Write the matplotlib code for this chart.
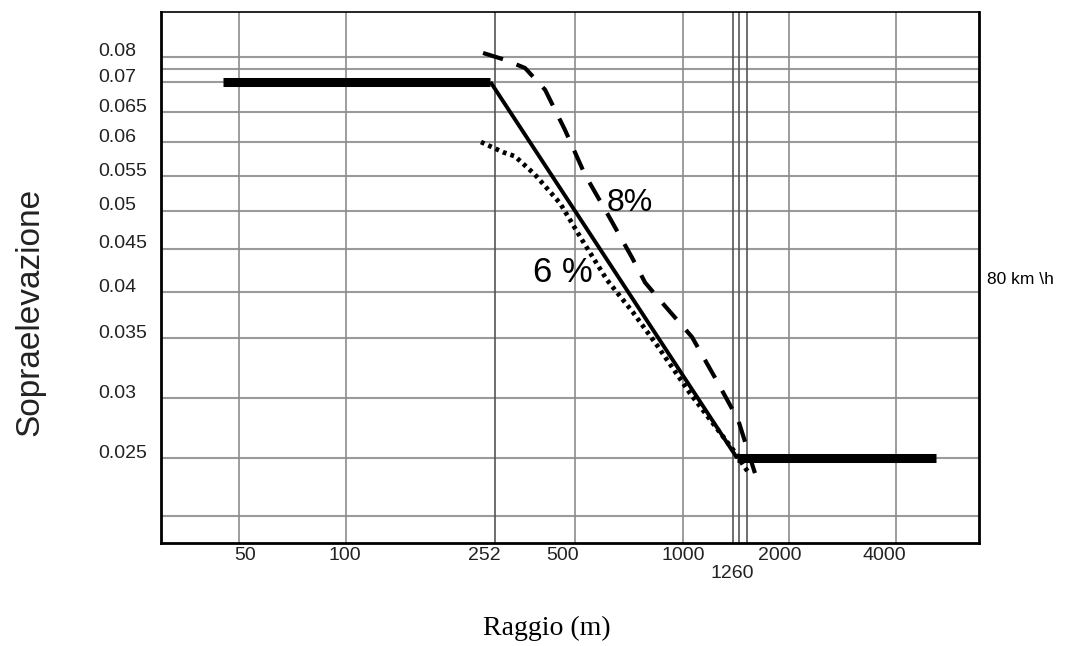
import numpy as np
import matplotlib
matplotlib.use("Agg")
import matplotlib.pyplot as plt
import matplotlib.transforms as mtransforms

# --- data ---
# plateau (solid line)
flat_r = [45, 245, 1250, 5200]
flat_q = [0.07, 0.07, 0.025, 0.025]

# 8 % curve (dashed)
r_8 = [234, 275, 326, 387, 459, 533, 618, 721, 784, 863, 1038, 1141, 1255, 1460]
q_8 = [0.0817, 0.0788, 0.0754, 0.0687, 0.0620, 0.0552, 0.0495, 0.0440,
       0.0411, 0.0391, 0.0351, 0.0317, 0.0282, 0.0237]

# 6 % curve (dotted)
r_6 = [231, 270, 299, 355, 440, 523, 614, 725, 846, 1029, 1229, 1369]
q_6 = [0.0600, 0.0585, 0.0579, 0.0552, 0.0511, 0.0462, 0.0414, 0.0378,
       0.0344, 0.0304, 0.0257, 0.0238]

x_ticks = [50, 100, 252, 500, 1000, 1260, 2000, 4000]
x_extra = [1230, 1355]
y_ticks = [0.08, 0.07, 0.065, 0.06, 0.055, 0.05, 0.045, 0.04, 0.035, 0.03, 0.025]
y_extra = [0.075, 0.02]

# the printed grid is hand spaced, so the axes use a piecewise scale
# through the grid lines (value -> pixel of the original drawing)
x_knots = [30, 50, 100, 252, 500, 1000, 1260, 2000, 4000, 6850]
x_pix = [161, 239, 346, 495, 575, 683, 739, 789, 896, 979]
y_knots = [0.0177, 0.02, 0.025, 0.03, 0.035, 0.04, 0.045, 0.05, 0.055,
           0.06, 0.065, 0.07, 0.075, 0.08, 0.099]
y_pix = [543, 516, 458, 398, 338, 292, 249, 211, 176, 142, 112, 82, 69, 57, 12]


def piecewise(knots, pix, log=False):
    kv = np.log10(knots) if log else np.asarray(knots, float)
    pv = np.asarray(pix, float)
    sign = 1.0 if pv[-1] > pv[0] else -1.0
    pv = sign * pv

    def fwd(a):
        a = np.asarray(a, float)
        if log:
            a = np.log10(np.clip(a, 1e-12, None))
        return np.interp(a, kv, pv)

    def inv(p):
        r = np.interp(np.asarray(p, float), pv, kv)
        return 10 ** r if log else r
    return fwd, inv


fig = plt.figure(figsize=(10.69, 6.46), dpi=100)
ax = fig.add_axes([161 / 1069, 1 - 543 / 646, (979 - 161) / 1069, (543 - 12) / 646])
ax.set_xscale("function", functions=piecewise(x_knots, x_pix, log=True))
ax.set_yscale("function", functions=piecewise(y_knots, y_pix))
ax.set_xlim(x_knots[0], x_knots[-1])
ax.set_ylim(y_knots[0], y_knots[-1])

sans = ["Liberation Sans", "DejaVu Sans"]

# grid
for v in y_ticks + y_extra:
    ax.axhline(v, color="#9a9a9a", lw=1.5, zorder=1)
for v in x_ticks + x_extra:
    dark = v in (252, 1230, 1260, 1355)
    ax.axvline(v, color="#555555" if dark else "#8c8c8c", lw=1.2, zorder=1)

# curves
ax.plot(r_8, q_8, color="black", lw=3.0, ls=(0, (5, 3.5)), zorder=3)
ax.plot(r_6, q_6, color="black", lw=3.4, ls=(0, (0.8, 0.9)), zorder=3)
ax.plot(flat_r[1:3], flat_q[1:3], color="black", lw=2.8, zorder=4,
        solid_capstyle="butt")
ax.plot(flat_r[:2], flat_q[:2], color="black", lw=6.5, zorder=4,
        solid_capstyle="butt")
ax.plot(flat_r[2:], flat_q[2:], color="black", lw=6.5, zorder=4,
        solid_capstyle="butt")

# ticks: labels only, no tick marks
ax.set_xticks([])
ax.set_yticks([])
ylab_tr = mtransforms.offset_copy(
    mtransforms.blended_transform_factory(ax.transAxes, ax.transData),
    fig=fig, x=0, y=5, units="dots")
for v in y_ticks:
    ax.text((98 - 161) / 818, v, f"{v:g}", transform=ylab_tr, ha="left",
            va="center", fontsize=14, family=sans, color="#222222")

x_nudge = {50: 6, 100: -1, 252: -11, 500: -12, 1000: 0, 1260: -7, 2000: -9, 4000: -12}
for v in x_ticks:
    drop = 31 if v == 1260 else 13
    tr = mtransforms.offset_copy(
        mtransforms.blended_transform_factory(ax.transData, ax.transAxes),
        fig=fig, x=x_nudge[v], y=-drop, units="dots")
    ax.text(v, 0, str(v), transform=tr, ha="center", va="center",
            fontsize=14, family=sans, color="#222222")

for s in ax.spines.values():
    s.set_color("black")
    s.set_linewidth(2.0)
ax.spines["top"].set_linewidth(1.2)

ax.text(712, 0.0511, "8%", fontsize=23, ha="center", va="center", family=sans)
ax.text(451, 0.0423, "6 %", fontsize=25, ha="center", va="center", family=sans)

fig.text(987 / 1069, 1 - 279 / 646, "80 km \\h", fontsize=12.5, family=sans,
         ha="left", va="center")
fig.text(30 / 1069, 1 - 312 / 646, "Sopraelevazione", rotation=90, fontsize=24,
         ha="center", va="center", family=sans, color="#222222")
fig.text(547 / 1069, 1 - 628 / 646, "Raggio (m)", fontsize=20, ha="center",
         va="center", family=["Liberation Serif", "DejaVu Serif"])

fig.savefig("out.png", dpi=100)
